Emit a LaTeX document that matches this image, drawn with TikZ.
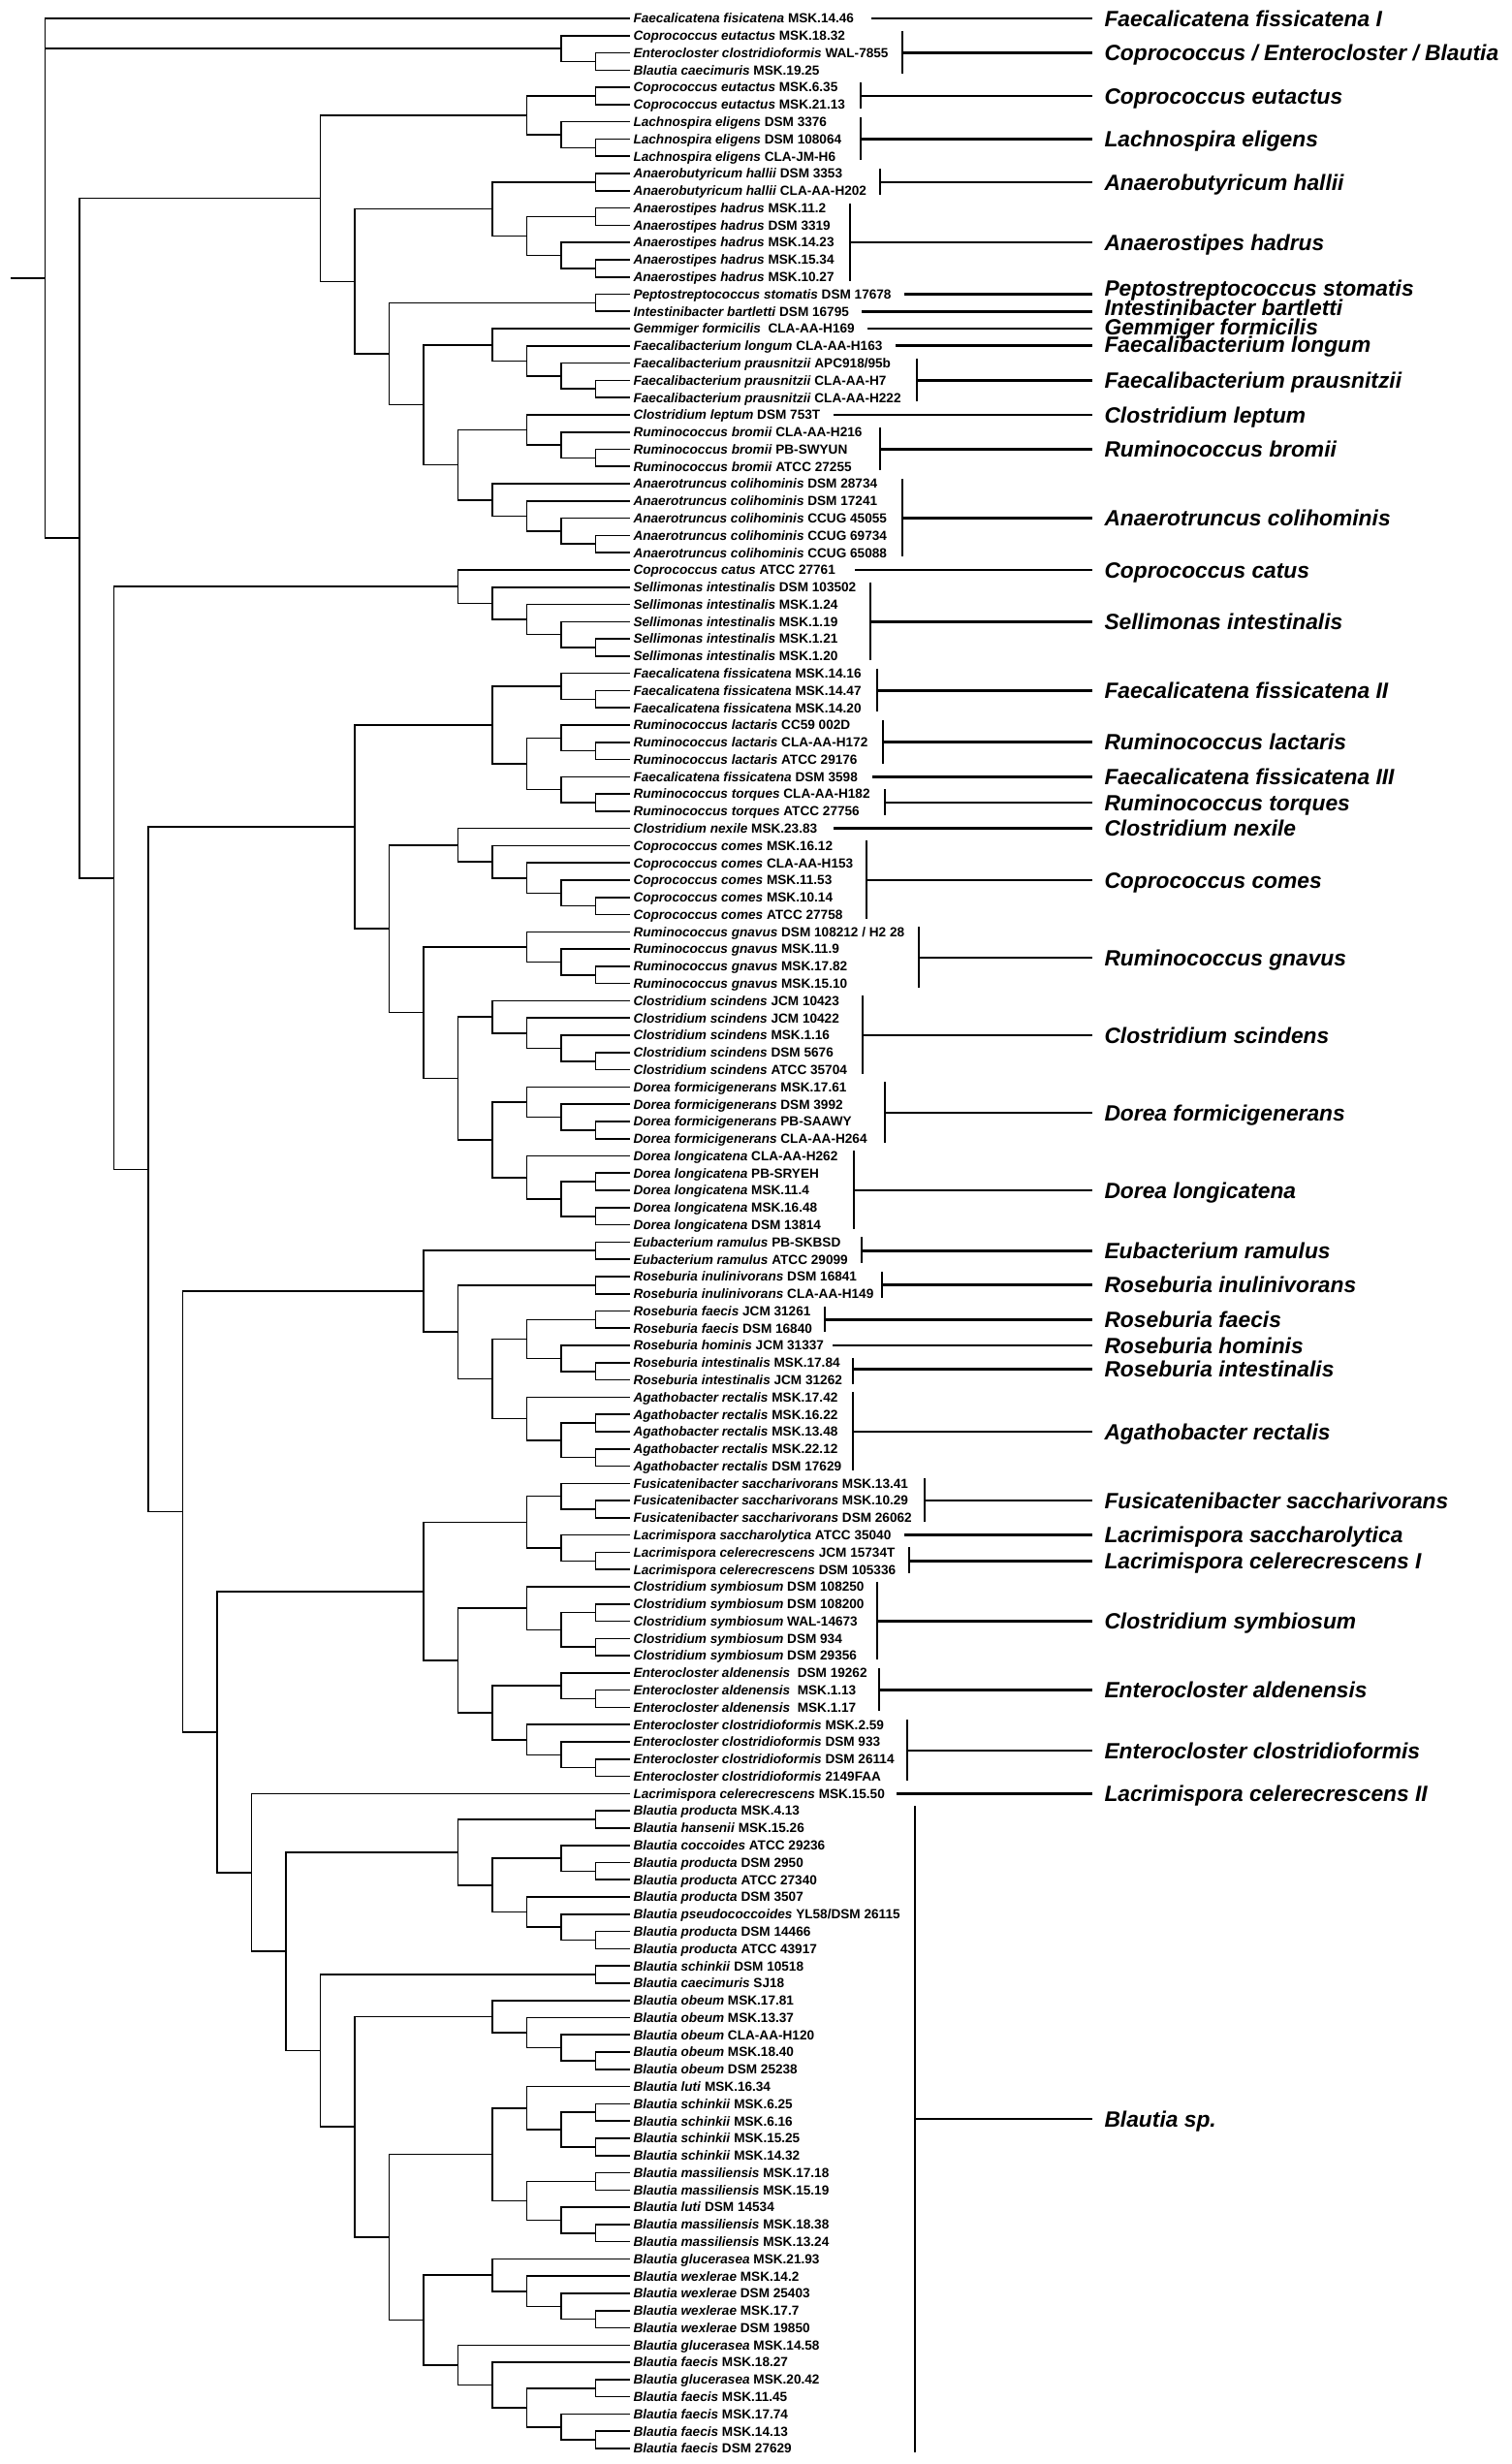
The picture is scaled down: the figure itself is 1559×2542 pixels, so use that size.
\documentclass[tikz,border=0pt]{standalone}
\usepackage{fontspec}
\setmainfont{Liberation Sans}
\usetikzlibrary{calc}

\tikzstyle{branch} = [line width=1.6pt]
\tikzstyle{cladebar} = [line width=2.7pt]
\tikzstyle{tiplabel} = [anchor=west, inner xsep=3.5pt, inner ysep=0pt, outer sep=0pt,
  text height=11pt, text depth=1.3pt, font=\fontsize{13.6}{15}\selectfont\bfseries]
\tikzstyle{cladelabel} = [anchor=west, inner xsep=12.5pt, inner ysep=0pt, outer sep=0pt,
  text height=18pt, text depth=1.7pt, font=\fontsize{22.8}{26}\selectfont\bfseries\itshape]

% tip position and level step (px)
\newcommand{\tipx}{650}
\newcommand{\stepx}{35.5}

% internal node #1 at level #2 joining #3 and #4
\newcommand{\mkclade}[4]{%
  \path let \p1=(#3), \p2=(#4) in
    coordinate (#1) at ({(\tipx-#2*\stepx)*1pt},{0.5*(\y1+\y2)});
  \draw[branch] (#1) |- (#3);
  \draw[branch] (#1) |- (#4);
}

% bracket from #4 to #5 at x=#3, label #6, optional shift #1
\newcommand{\mkgroup}[6][0]{%
  \path let \p1=(#4), \p2=(#5) in
    coordinate (#2T) at ({#3*1pt},{\y1+5pt})
    coordinate (#2B) at ({#3*1pt},{\y2-4pt})
    coordinate (#2) at ({#3*1pt},{0.5*(\y1+\y2)-(#1)*1pt});
  \coordinate (#2E) at (#2 -| labx);
  \draw[cladebar] (#2T) -- (#2B);
  \draw[cladebar] (#2) -- (#2E);
  \node[cladelabel] (#2L) at (#2E) {#6};
}

% single tip #4, line from x=#3, label #5
\newcommand{\mksingle}[5][]{%
  \path let \p1=(#4) in coordinate (#2) at ({#3*1pt},\y1);
  \coordinate (#2E) at (#2 -| labx);
  \draw[cladebar] (#2) -- (#2E);
  \node[cladelabel,#1] (#2L) at (#2E) {#5};
}

\begin{document}
\begin{tikzpicture}[x=1pt,y=-1pt]

\fill[white] (0,0) rectangle (1559,2542);
\useasboundingbox (0,0) rectangle (1559,2542);

% --- Tips ---
\foreach \i/\spc/\strn in {
  1/Faecalicatena fisicatena/MSK.14.46,
  2/Coprococcus eutactus/MSK.18.32,
  3/Enterocloster clostridioformis/WAL-7855,
  4/Blautia caecimuris/MSK.19.25,
  5/Coprococcus eutactus/MSK.6.35,
  6/Coprococcus eutactus/MSK.21.13,
  7/Lachnospira eligens/DSM 3376,
  8/Lachnospira eligens/DSM 108064,
  9/Lachnospira eligens/CLA-JM-H6,
  10/Anaerobutyricum hallii/DSM 3353,
  11/Anaerobutyricum hallii/CLA-AA-H202,
  12/Anaerostipes hadrus/MSK.11.2,
  13/Anaerostipes hadrus/DSM 3319,
  14/Anaerostipes hadrus/MSK.14.23,
  15/Anaerostipes hadrus/MSK.15.34,
  16/Anaerostipes hadrus/MSK.10.27,
  17/Peptostreptococcus stomatis/DSM 17678,
  18/Intestinibacter bartletti/DSM 16795,
  19/Gemmiger formicilis/\ CLA-AA-H169,
  20/Faecalibacterium longum/CLA-AA-H163,
  21/Faecalibacterium prausnitzii/{APC918/95b},
  22/Faecalibacterium prausnitzii/CLA-AA-H7,
  23/Faecalibacterium prausnitzii/CLA-AA-H222,
  24/Clostridium leptum/DSM 753T,
  25/Ruminococcus bromii/CLA-AA-H216,
  26/Ruminococcus bromii/PB-SWYUN,
  27/Ruminococcus bromii/ATCC 27255,
  28/Anaerotruncus colihominis/DSM 28734,
  29/Anaerotruncus colihominis/DSM 17241,
  30/Anaerotruncus colihominis/CCUG 45055,
  31/Anaerotruncus colihominis/CCUG 69734,
  32/Anaerotruncus colihominis/CCUG 65088,
  33/Coprococcus catus/ATCC 27761,
  34/Sellimonas intestinalis/DSM 103502,
  35/Sellimonas intestinalis/MSK.1.24,
  36/Sellimonas intestinalis/MSK.1.19,
  37/Sellimonas intestinalis/MSK.1.21,
  38/Sellimonas intestinalis/MSK.1.20,
  39/Faecalicatena fissicatena/MSK.14.16,
  40/Faecalicatena fissicatena/MSK.14.47,
  41/Faecalicatena fissicatena/MSK.14.20,
  42/Ruminococcus lactaris/CC59 002D,
  43/Ruminococcus lactaris/CLA-AA-H172,
  44/Ruminococcus lactaris/ATCC 29176,
  45/Faecalicatena fissicatena/DSM 3598,
  46/Ruminococcus torques/CLA-AA-H182,
  47/Ruminococcus torques/ATCC 27756,
  48/Clostridium nexile/MSK.23.83,
  49/Coprococcus comes/MSK.16.12,
  50/Coprococcus comes/CLA-AA-H153,
  51/Coprococcus comes/MSK.11.53,
  52/Coprococcus comes/MSK.10.14,
  53/Coprococcus comes/ATCC 27758,
  54/Ruminococcus gnavus/{DSM 108212 / H2 28},
  55/Ruminococcus gnavus/MSK.11.9,
  56/Ruminococcus gnavus/MSK.17.82,
  57/Ruminococcus gnavus/MSK.15.10,
  58/Clostridium scindens/JCM 10423,
  59/Clostridium scindens/JCM 10422,
  60/Clostridium scindens/MSK.1.16,
  61/Clostridium scindens/DSM 5676,
  62/Clostridium scindens/ATCC 35704,
  63/Dorea formicigenerans/MSK.17.61,
  64/Dorea formicigenerans/DSM 3992,
  65/Dorea formicigenerans/PB-SAAWY,
  66/Dorea formicigenerans/CLA-AA-H264,
  67/Dorea longicatena/CLA-AA-H262,
  68/Dorea longicatena/PB-SRYEH,
  69/Dorea longicatena/MSK.11.4,
  70/Dorea longicatena/MSK.16.48,
  71/Dorea longicatena/DSM 13814,
  72/Eubacterium ramulus/PB-SKBSD,
  73/Eubacterium ramulus/ATCC 29099,
  74/Roseburia inulinivorans/DSM 16841,
  75/Roseburia inulinivorans/CLA-AA-H149,
  76/Roseburia faecis/JCM 31261,
  77/Roseburia faecis/DSM 16840,
  78/Roseburia hominis/JCM 31337,
  79/Roseburia intestinalis/MSK.17.84,
  80/Roseburia intestinalis/JCM 31262,
  81/Agathobacter rectalis/MSK.17.42,
  82/Agathobacter rectalis/MSK.16.22,
  83/Agathobacter rectalis/MSK.13.48,
  84/Agathobacter rectalis/MSK.22.12,
  85/Agathobacter rectalis/DSM 17629,
  86/Fusicatenibacter saccharivorans/MSK.13.41,
  87/Fusicatenibacter saccharivorans/MSK.10.29,
  88/Fusicatenibacter saccharivorans/DSM 26062,
  89/Lacrimispora saccharolytica/ATCC 35040,
  90/Lacrimispora celerecrescens/JCM 15734T,
  91/Lacrimispora celerecrescens/DSM 105336,
  92/Clostridium symbiosum/DSM 108250,
  93/Clostridium symbiosum/DSM 108200,
  94/Clostridium symbiosum/WAL-14673,
  95/Clostridium symbiosum/DSM 934,
  96/Clostridium symbiosum/DSM 29356,
  97/Enterocloster aldenensis/\ DSM 19262,
  98/Enterocloster aldenensis/\ MSK.1.13,
  99/Enterocloster aldenensis/\ MSK.1.17,
  100/Enterocloster clostridioformis/MSK.2.59,
  101/Enterocloster clostridioformis/DSM 933,
  102/Enterocloster clostridioformis/DSM 26114,
  103/Enterocloster clostridioformis/2149FAA,
  104/Lacrimispora celerecrescens/MSK.15.50,
  105/Blautia producta/MSK.4.13,
  106/Blautia hansenii/MSK.15.26,
  107/Blautia coccoides/ATCC 29236,
  108/Blautia producta/DSM 2950,
  109/Blautia producta/ATCC 27340,
  110/Blautia producta/DSM 3507,
  111/Blautia pseudococcoides/{YL58/DSM 26115},
  112/Blautia producta/DSM 14466,
  113/Blautia producta/ATCC 43917,
  114/Blautia schinkii/DSM 10518,
  115/Blautia caecimuris/SJ18,
  116/Blautia obeum/MSK.17.81,
  117/Blautia obeum/MSK.13.37,
  118/Blautia obeum/CLA-AA-H120,
  119/Blautia obeum/MSK.18.40,
  120/Blautia obeum/DSM 25238,
  121/Blautia luti/MSK.16.34,
  122/Blautia schinkii/MSK.6.25,
  123/Blautia schinkii/MSK.6.16,
  124/Blautia schinkii/MSK.15.25,
  125/Blautia schinkii/MSK.14.32,
  126/Blautia massiliensis/MSK.17.18,
  127/Blautia massiliensis/MSK.15.19,
  128/Blautia luti/DSM 14534,
  129/Blautia massiliensis/MSK.18.38,
  130/Blautia massiliensis/MSK.13.24,
  131/Blautia glucerasea/MSK.21.93,
  132/Blautia wexlerae/MSK.14.2,
  133/Blautia wexlerae/DSM 25403,
  134/Blautia wexlerae/MSK.17.7,
  135/Blautia wexlerae/DSM 19850,
  136/Blautia glucerasea/MSK.14.58,
  137/Blautia faecis/MSK.18.27,
  138/Blautia glucerasea/MSK.20.42,
  139/Blautia faecis/MSK.11.45,
  140/Blautia faecis/MSK.17.74,
  141/Blautia faecis/MSK.14.13,
  142/Blautia faecis/DSM 27629} {
  \node[tiplabel] (l\i) at (\tipx,{19+(\i-1)*17.78}) {\textit{\spc} \strn};
}

% --- Tree ---
% top trio
\mkclade{eutB}{1}{l3}{l4}
\mkclade{eutA}{2}{l2}{eutB}

% eutactus / eligens
\mkclade{cEutP}{1}{l5}{l6}
\mkclade{lachP}{1}{l8}{l9}
\mkclade{lach}{2}{l7}{lachP}
\mkclade{eutLach}{3}{cEutP}{lach}

% hallii / hadrus
\mkclade{halP}{1}{l10}{l11}
\mkclade{hadP1}{1}{l12}{l13}
\mkclade{hadP2}{1}{l15}{l16}
\mkclade{hadB}{2}{l14}{hadP2}
\mkclade{had}{3}{hadP1}{hadB}
\mkclade{halHad}{4}{halP}{had}

% Peptostreptococcus ... Anaerotruncus
\mkclade{peptP}{1}{l17}{l18}
\mkclade{praP}{1}{l22}{l23}
\mkclade{pra}{2}{l21}{praP}
\mkclade{faeLong}{3}{l20}{pra}
\mkclade{gem}{4}{l19}{faeLong}
\mkclade{broP}{1}{l26}{l27}
\mkclade{bro}{2}{l25}{broP}
\mkclade{lepBro}{3}{l24}{bro}
\mkclade{colP}{1}{l31}{l32}
\mkclade{colC}{2}{l30}{colP}
\mkclade{colB}{3}{l29}{colC}
\mkclade{col}{4}{l28}{colB}
\mkclade{rumA}{5}{lepBro}{col}
\mkclade{ruminoc}{6}{gem}{rumA}
\mkclade{peptRum}{7}{peptP}{ruminoc}
\mkclade{butyr}{8}{halHad}{peptRum}
\mkclade{upperA}{9}{eutLach}{butyr}

% catus / Sellimonas
\mkclade{selP}{1}{l37}{l38}
\mkclade{selC}{2}{l36}{selP}
\mkclade{selB}{3}{l35}{selC}
\mkclade{sel}{4}{l34}{selB}
\mkclade{catSel}{5}{l33}{sel}

% fissicatena / lactaris / torques
\mkclade{fisP}{1}{l40}{l41}
\mkclade{fis}{2}{l39}{fisP}
\mkclade{lacP}{1}{l43}{l44}
\mkclade{lac}{2}{l42}{lacP}
\mkclade{torP}{1}{l46}{l47}
\mkclade{tor}{2}{l45}{torP}
\mkclade{lacTor}{3}{lac}{tor}
\mkclade{fisLac}{4}{fis}{lacTor}

% nexile ... Dorea
\mkclade{comP}{1}{l52}{l53}
\mkclade{comC}{2}{l51}{comP}
\mkclade{comB}{3}{l50}{comC}
\mkclade{com}{4}{l49}{comB}
\mkclade{nexCom}{5}{l48}{com}
\mkclade{gnaP}{1}{l56}{l57}
\mkclade{gnaB}{2}{l55}{gnaP}
\mkclade{gna}{3}{l54}{gnaB}
\mkclade{sciP}{1}{l61}{l62}
\mkclade{sciC}{2}{l60}{sciP}
\mkclade{sciB}{3}{l59}{sciC}
\mkclade{sci}{4}{l58}{sciB}
\mkclade{forP}{1}{l65}{l66}
\mkclade{forB}{2}{l64}{forP}
\mkclade{dfor}{3}{l63}{forB}
\mkclade{lonP1}{1}{l68}{l69}
\mkclade{lonP2}{1}{l70}{l71}
\mkclade{lonB}{2}{lonP1}{lonP2}
\mkclade{lon}{3}{l67}{lonB}
\mkclade{dorea}{4}{dfor}{lon}
\mkclade{sciDor}{5}{sci}{dorea}
\mkclade{gnaDor}{6}{gna}{sciDor}
\mkclade{nexDor}{7}{nexCom}{gnaDor}
\mkclade{torqDor}{8}{fisLac}{nexDor}

% ramulus / Roseburia / Agathobacter
\mkclade{ramP}{1}{l72}{l73}
\mkclade{inuP}{1}{l74}{l75}
\mkclade{faeP}{1}{l76}{l77}
\mkclade{intP}{1}{l79}{l80}
\mkclade{homInt}{2}{l78}{intP}
\mkclade{ros}{3}{faeP}{homInt}
\mkclade{agaP1}{1}{l82}{l83}
\mkclade{agaP2}{1}{l84}{l85}
\mkclade{agaB}{2}{agaP1}{agaP2}
\mkclade{aga}{3}{l81}{agaB}
\mkclade{rosAga}{4}{ros}{aga}
\mkclade{inuAga}{5}{inuP}{rosAga}
\mkclade{ramAga}{6}{ramP}{inuAga}

% Fusicatenibacter ... Enterocloster
\mkclade{fusP}{1}{l87}{l88}
\mkclade{fus}{2}{l86}{fusP}
\mkclade{celP}{1}{l90}{l91}
\mkclade{sacCel}{2}{l89}{celP}
\mkclade{fusLac}{3}{fus}{sacCel}
\mkclade{symP1}{1}{l93}{l94}
\mkclade{symP2}{1}{l95}{l96}
\mkclade{symB}{2}{symP1}{symP2}
\mkclade{sym}{3}{l92}{symB}
\mkclade{aldP}{1}{l98}{l99}
\mkclade{ald}{2}{l97}{aldP}
\mkclade{cloP}{1}{l102}{l103}
\mkclade{cloC}{2}{l101}{cloP}
\mkclade{clo}{3}{l100}{cloC}
\mkclade{aldClo}{4}{ald}{clo}
\mkclade{symClo}{5}{sym}{aldClo}
\mkclade{fusClo}{6}{fusLac}{symClo}

% Blautia
\mkclade{proP1}{1}{l105}{l106}
\mkclade{proP2}{1}{l108}{l109}
\mkclade{coc}{2}{l107}{proP2}
\mkclade{proP3}{1}{l112}{l113}
\mkclade{pseu}{2}{l111}{proP3}
\mkclade{proC}{3}{l110}{pseu}
\mkclade{proB}{4}{coc}{proC}
\mkclade{proA}{5}{proP1}{proB}
\mkclade{schP}{1}{l114}{l115}
\mkclade{obeP}{1}{l119}{l120}
\mkclade{obeC}{2}{l118}{obeP}
\mkclade{obeB}{3}{l117}{obeC}
\mkclade{obe}{4}{l116}{obeB}
\mkclade{schP1}{1}{l122}{l123}
\mkclade{schP2}{1}{l124}{l125}
\mkclade{schB}{2}{schP1}{schP2}
\mkclade{lutSch}{3}{l121}{schB}
\mkclade{masP1}{1}{l126}{l127}
\mkclade{masP2}{1}{l129}{l130}
\mkclade{lutMas}{2}{l128}{masP2}
\mkclade{mas}{3}{masP1}{lutMas}
\mkclade{schMas}{4}{lutSch}{mas}
\mkclade{wexP}{1}{l134}{l135}
\mkclade{wexC}{2}{l133}{wexP}
\mkclade{wexB}{3}{l132}{wexC}
\mkclade{wex}{4}{l131}{wexB}
\mkclade{bfaeP1}{1}{l138}{l139}
\mkclade{bfaeP2}{1}{l141}{l142}
\mkclade{bfaeC}{2}{l140}{bfaeP2}
\mkclade{bfaeB}{3}{bfaeP1}{bfaeC}
\mkclade{bfae}{4}{l137}{bfaeB}
\mkclade{gluFae}{5}{l136}{bfae}
\mkclade{wexFae}{6}{wex}{gluFae}
\mkclade{schFae}{7}{schMas}{wexFae}
\mkclade{obeFae}{8}{obe}{schFae}
\mkclade{schkFae}{9}{schP}{obeFae}
\mkclade{blautia}{10}{proA}{schkFae}

% backbone
\mkclade{celBla}{11}{l104}{blautia}
\mkclade{lowerB}{12}{fusClo}{celBla}
\mkclade{lowerA}{13}{ramAga}{lowerB}
\mkclade{middle}{14}{torqDor}{lowerA}
\mkclade{catMid}{15}{catSel}{middle}
\mkclade{core}{16}{upperA}{catMid}
\mkclade{root}{17}{l1}{core}
\draw[branch] (root) |- (eutA);
\path (root) ++(-35.5,0) coordinate (stub);
\draw[branch] (stub) -- (root);

% --- Clade brackets ---
\coordinate (labx) at (1127,0);
\mksingle{gFis1}{899}{l1}{Faecalicatena fissicatena I}
\mkgroup{gCeb}{931}{l2}{l4}{Coprococcus / Enterocloster / Blautia}
\mkgroup{gCeu}{888}{l5}{l6}{Coprococcus eutactus}
\mkgroup{gLel}{888}{l7}{l9}{Lachnospira eligens}
\mkgroup{gAha}{908}{l10}{l11}{Anaerobutyricum hallii}
\mkgroup{gAhd}{877}{l12}{l16}{Anaerostipes hadrus}
\mksingle[yshift=6pt]{gPst}{933}{l17}{Peptostreptococcus stomatis}
\mksingle[yshift=4pt]{gIba}{889}{l18}{Intestinibacter bartletti}
\mksingle[yshift=2pt]{gGfo}{895}{l19}{Gemmiger formicilis}
\mksingle[yshift=1pt]{gFlo}{924}{l20}{Faecalibacterium longum}
\mkgroup{gFpr}{946}{l21}{l23}{Faecalibacterium prausnitzii}
\mksingle{gCle}{860}{l24}{Clostridium leptum}
\mkgroup{gRbr}{908}{l25}{l27}{Ruminococcus bromii}
\mkgroup{gAco}{931}{l28}{l32}{Anaerotruncus colihominis}
\mksingle{gCca}{882}{l33}{Coprococcus catus}
\mkgroup{gSin}{898}{l34}{l38}{Sellimonas intestinalis}
\mkgroup{gFis2}{905}{l39}{l41}{Faecalicatena fissicatena II}
\mkgroup{gRla}{911}{l42}{l44}{Ruminococcus lactaris}
\mksingle{gFis3}{900}{l45}{Faecalicatena fissicatena III}
\mkgroup{gRto}{913}{l46}{l47}{Ruminococcus torques}
\mksingle{gCne}{860}{l48}{Clostridium nexile}
\mkgroup{gCco}{894}{l49}{l53}{Coprococcus comes}
\mkgroup{gRgn}{948}{l54}{l57}{Ruminococcus gnavus}
\mkgroup{gCsc}{890}{l58}{l62}{Clostridium scindens}
\mkgroup{gDfo}{913}{l63}{l66}{Dorea formicigenerans}
\mkgroup{gDlo}{881}{l67}{l71}{Dorea longicatena}
\mkgroup{gEra}{889}{l72}{l73}{Eubacterium ramulus}
\mkgroup{gRin}{910}{l74}{l75}{Roseburia inulinivorans}
\mkgroup{gRfa}{851}{l76}{l77}{Roseburia faecis}
\mksingle{gRho}{859}{l78}{Roseburia hominis}
\mkgroup[-2]{gRit}{880}{l79}{l80}{Roseburia intestinalis}
\mkgroup{gAre}{880}{l81}{l85}{Agathobacter rectalis}
\mkgroup{gFsa}{954}{l86}{l88}{Fusicatenibacter saccharivorans}
\mksingle{gLsa}{933}{l89}{Lacrimispora saccharolytica}
\mkgroup{gLce1}{938}{l90}{l91}{Lacrimispora celerecrescens I}
\mkgroup{gCsy}{905}{l92}{l96}{Clostridium symbiosum}
\mkgroup{gEal}{907}{l97}{l99}{Enterocloster aldenensis}
\mkgroup{gEcl}{936}{l100}{l103}{Enterocloster clostridioformis}
\mksingle{gLce2}{925}{l104}{Lacrimispora celerecrescens II}
\mkgroup[-11]{gBsp}{944}{l105}{l142}{Blautia sp.}

\end{tikzpicture}
\end{document}
